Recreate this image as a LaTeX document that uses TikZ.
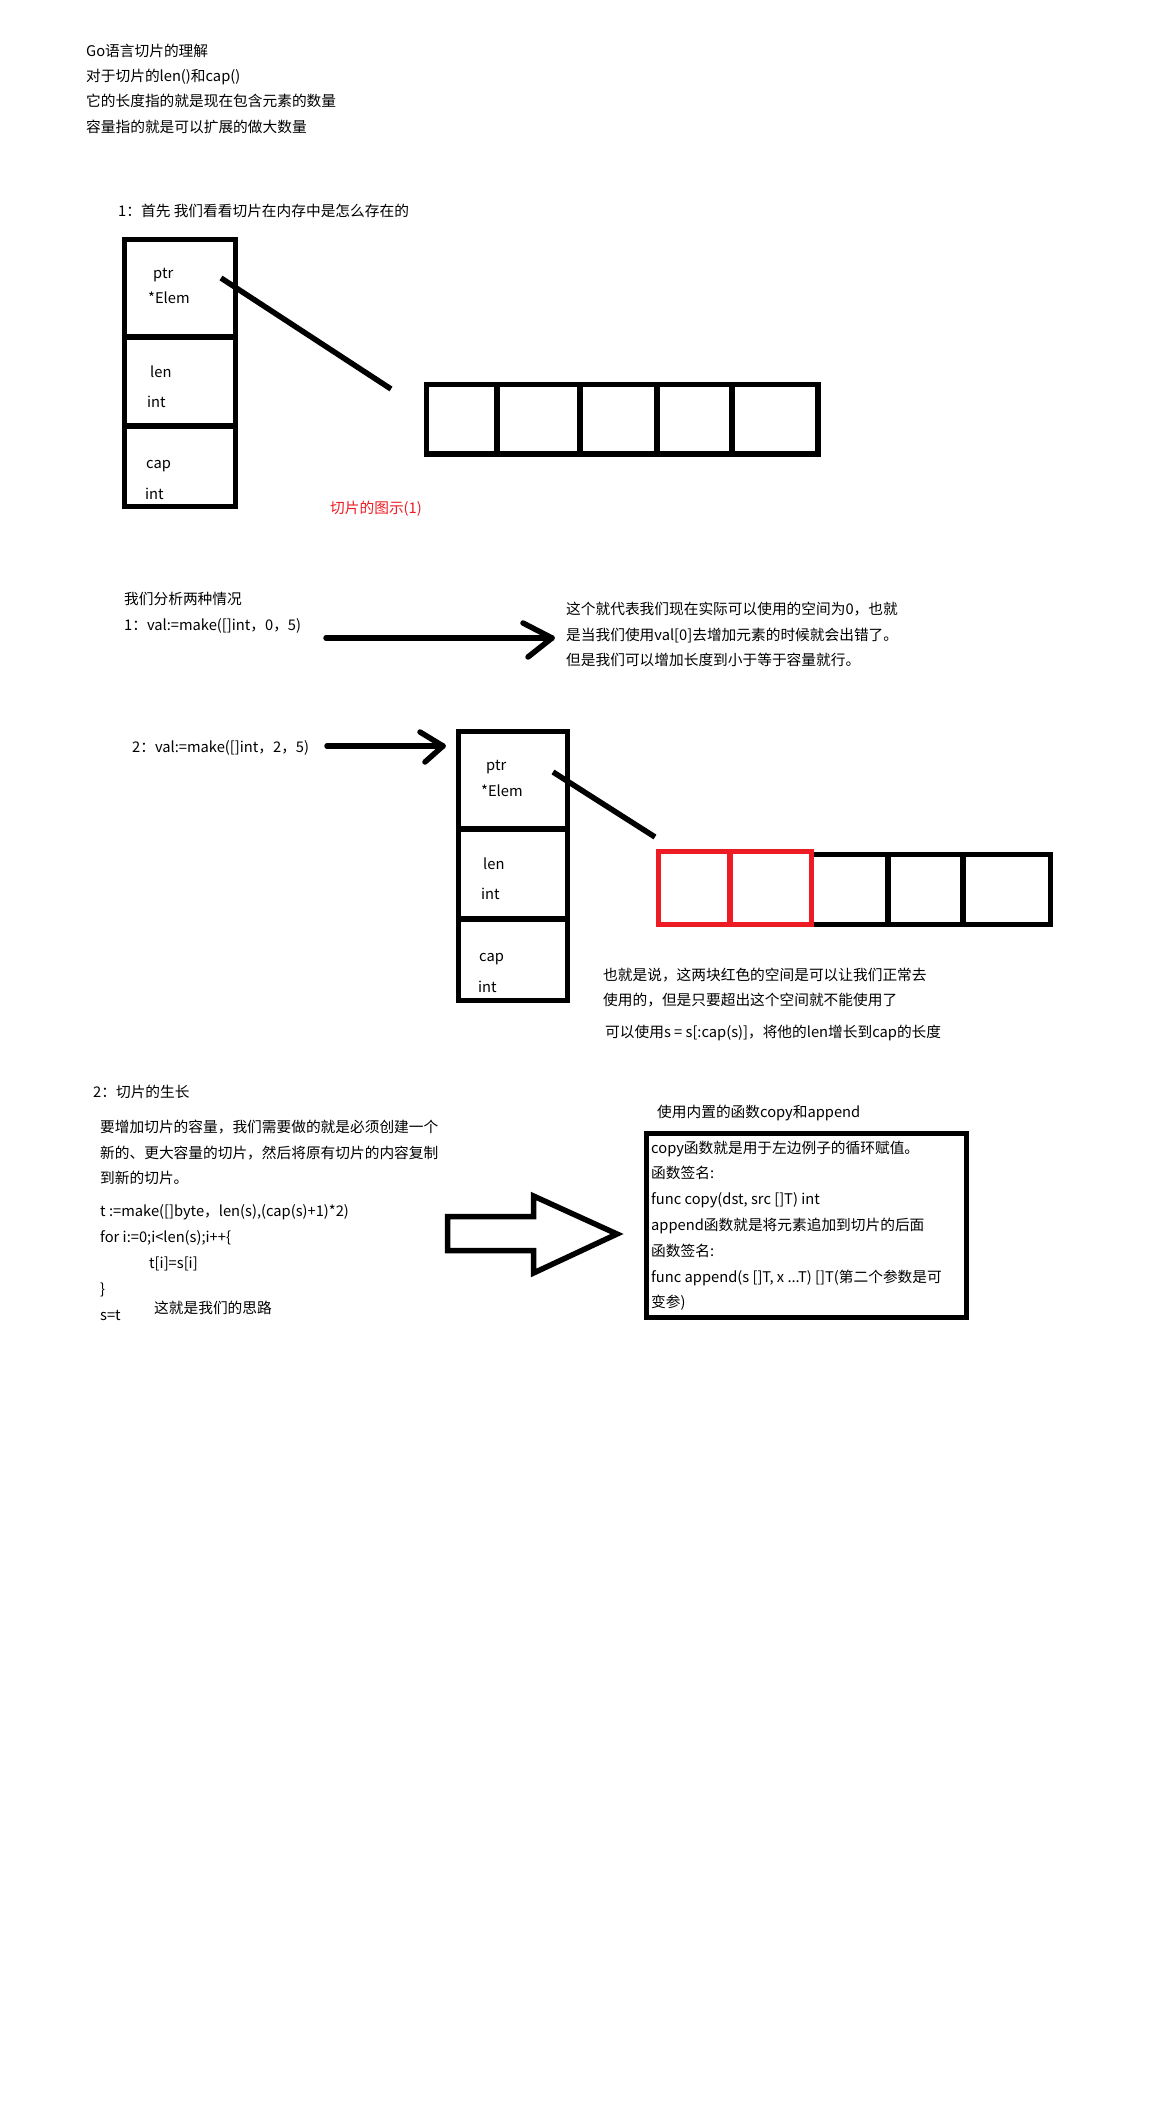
\documentclass[tikz,border=0pt]{standalone}
\usepackage{fontspec}
\setmainfont{Noto Sans CJK SC}
\definecolor{redc}{RGB}{237,28,36}
\begin{document}
\begin{tikzpicture}[x=1pt,y=-1pt,
  txt/.style={anchor=west,inner sep=0pt,font=\fontsize{14.7pt}{17pt}\selectfont,text height=12.9pt,text depth=1.8pt},
  cellbox/.style={draw,line width=5.5pt,inner sep=0pt},
  redbox/.style={draw=redc,line width=5.5pt,inner sep=0pt},
  ptrline/.style={line width=5.5pt},
  arrline/.style={line width=5.5pt,line cap=round,line join=round}]
\fill[white] (0,0) rectangle (1152,2112);
\useasboundingbox (0,0) rectangle (1152,2112);

% header
\node[txt] (h1) at (86,51) {Go语言切片的理解};
\node[txt] (h2) at (86,76) {对于切片的len()和cap()};
\node[txt] (h3) at (86,101) {它的长度指的就是现在包含元素的数量};
\node[txt] (h4) at (86,127) {容量指的就是可以扩展的做大数量};

% section 1
\node[txt] (q1) at (118,211) {1：首先 我们看看切片在内存中是怎么存在的};
\node[cellbox,minimum width=111pt,minimum height=97.5pt] (s1p) at (180,288.25) {};
\node[cellbox,minimum width=111pt,minimum height=89pt] (s1l) at (180,381.5) {};
\node[cellbox,minimum width=111pt,minimum height=80.5pt] (s1c) at (180,466.25) {};
\node[txt] (s1pa) at (153,273) {ptr};
\node[txt] (s1pb) at (148,298) {*Elem};
\node[txt] (s1la) at (150,372) {len};
\node[txt] (s1lb) at (147,402) {int};
\node[txt] (s1ca) at (146,463) {cap};
\node[txt] (s1cb) at (145,494) {int};

\node[cellbox,minimum width=70.5pt,minimum height=69.5pt] (a1) at (461.75,419.25) {};
\node[cellbox,minimum width=83pt,minimum height=69.5pt] (a2) at (538.5,419.25) {};
\node[cellbox,minimum width=77pt,minimum height=69.5pt] (a3) at (618.5,419.25) {};
\node[cellbox,minimum width=75pt,minimum height=69.5pt] (a4) at (694.5,419.25) {};
\node[cellbox,minimum width=86pt,minimum height=69.5pt] (a5) at (775,419.25) {};
\coordinate (p1a) at (221,278);
\coordinate (p1b) at (391,389);
\draw[ptrline] (p1a) -- (p1b);
\node[txt,text=redc] (cap1) at (330,508) {切片的图示(1)};

% section 1 cases
\node[txt] (c0) at (124,599) {我们分析两种情况};
\node[txt] (c1) at (124,625) {1：val:=make([]int，0，5)};
\coordinate (ar1s) at (326,638);
\coordinate (ar1e) at (552,638);
\draw[arrline] (ar1s) -- (ar1e);
\draw[arrline] (ar1e) ++(-29,-15) -- (ar1e) -- ++(-24,19);
\node[txt] (e1) at (566,609) {这个就代表我们现在实际可以使用的空间为0，也就};
\node[txt] (e2) at (566,635) {是当我们使用val[0]去增加元素的时候就会出错了。};
\node[txt] (e3) at (566,660) {但是我们可以增加长度到小于等于容量就行。};

\node[txt] (c2) at (132,747) {2：val:=make([]int，2，5)};
\coordinate (ar2s) at (327,746);
\coordinate (ar2e) at (443,746);
\draw[arrline] (ar2s) -- (ar2e);
\draw[arrline] (ar2e) ++(-23,-14) -- (ar2e) -- ++(-18,16);

\node[cellbox,minimum width=109pt,minimum height=97.5pt] (s2p) at (513,780.25) {};
\node[cellbox,minimum width=109pt,minimum height=90pt] (s2l) at (513,874) {};
\node[cellbox,minimum width=109pt,minimum height=81.5pt] (s2c) at (513,959.75) {};
\node[txt] (s2pa) at (486,765) {ptr};
\node[txt] (s2pb) at (481,791) {*Elem};
\node[txt] (s2la) at (483,864) {len};
\node[txt] (s2lb) at (481,894) {int};
\node[txt] (s2ca) at (479,956) {cap};
\node[txt] (s2cb) at (478,987) {int};

\node[cellbox,minimum width=76.5pt,minimum height=70pt] (b1) at (849.75,889.5) {};
\node[cellbox,minimum width=75pt,minimum height=70pt] (b2) at (925.5,889.5) {};
\node[cellbox,minimum width=87.5pt,minimum height=70pt] (b3) at (1006.75,889.5) {};
\node[redbox,minimum width=71.5pt,minimum height=73pt] (r1) at (694.25,888) {};
\node[redbox,minimum width=81.5pt,minimum height=73pt] (r2) at (770.75,888) {};
\coordinate (p2a) at (553,772);
\coordinate (p2b) at (655,837);
\draw[ptrline] (p2a) -- (p2b);

\node[txt] (f1) at (603,975) {也就是说，这两块红色的空间是可以让我们正常去};
\node[txt] (f2) at (603,1000) {使用的，但是只要超出这个空间就不能使用了};
\node[txt] (f3) at (605,1032) {可以使用s = s[:cap(s)]，将他的len增长到cap的长度};

% section 2
\node[txt] (g0) at (93,1092) {2：切片的生长};
\node[txt] (g1) at (100,1127) {要增加切片的容量，我们需要做的就是必须创建一个};
\node[txt] (g2) at (100,1153) {新的、更大容量的切片，然后将原有切片的内容复制};
\node[txt] (g3) at (100,1178) {到新的切片。};
\node[txt] (k1) at (100,1211) {t :=make([]byte，len(s),(cap(s)+1)*2)};
\node[txt] (k2) at (100,1237) {for i:=0;i<len(s);i++\{};
\node[txt] (k3) at (149,1263) {t[i]=s[i]};
\node[txt] (k4) at (100,1289) {\}};
\node[txt] (k5) at (100,1315) {s=t};
\node[txt] (k6) at (154,1308) {这就是我们的思路};

\draw[line width=5.5pt,line join=miter] (447.5,1216.5) -- (533.5,1216.5) -- (533.5,1196) -- (617,1234) -- (533.5,1273) -- (533.5,1250.5) -- (447.5,1250.5) -- cycle;

\node[txt] (m0) at (657,1112) {使用内置的函数copy和append};
\node[cellbox,minimum width=320pt,minimum height=184pt] (mb) at (806.5,1225.5) {};
\node[txt] (m1) at (651,1148) {copy函数就是用于左边例子的循环赋值。};
\node[txt] (m2) at (651,1173) {函数签名:};
\node[txt] (m3) at (651,1199) {func copy(dst, src []T) int};
\node[txt] (m4) at (651,1225) {append函数就是将元素追加到切片的后面};
\node[txt] (m5) at (651,1251) {函数签名:};
\node[txt] (m6) at (651,1277) {func append(s []T, x ...T) []T(第二个参数是可};
\node[txt] (m7) at (651,1302) {变参)};
\end{tikzpicture}
\end{document}
